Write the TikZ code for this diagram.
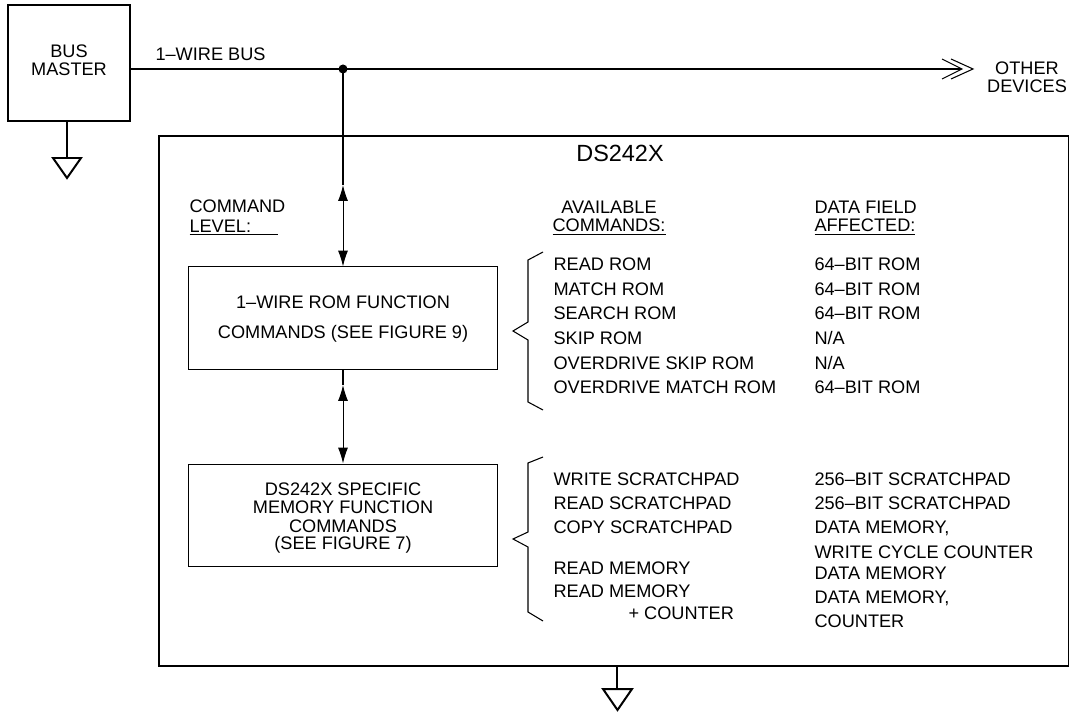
\documentclass[tikz,border=0pt]{standalone}
\usepackage{fontspec}
\setmainfont{Liberation Sans}
\usetikzlibrary{arrows.meta}

\tikzset{
	txt/.style={inner sep=0pt, font=\fontsize{15.5}{18}\selectfont},
	blk/.style={draw, line width=0.85pt, minimum width=9.24cm, minimum height=3.06cm, inner sep=0pt, font=\fontsize{15.5}{18}\selectfont},
	gnd/.style={line width=1.7pt, line join=miter},
	dbl/.style={line width=0.85pt, {Latex[length=13.5pt,width=8.5pt]}-{Latex[length=13.5pt,width=8.5pt]}}
}

\begin{document}
\begin{tikzpicture}[x=0.03cm, y=-0.03cm, line width=0.9pt]
	\useasboundingbox (0,0) rectangle (1071,713);

	% Bus master
	\node (master) at (69,63) [draw, minimum width=3.66cm, minimum height=3.48cm] {};
	\node (bus) at (69,58) [txt, anchor=base] {BUS};
	\node (mst) at (69,76) [txt, anchor=base] {MASTER};
	\coordinate (g1) at (67,158);
	\draw (master.south -| g1) -- (g1);
	\draw[gnd] (53,158) -- (81,158) -- (67,178) -- cycle;

	% 1-Wire bus
	\node (tap) at (343,69) [circle, fill, inner sep=0pt, minimum size=0.27cm] {};
	\coordinate (busend) at (961,69);
	\draw (master.east |- tap) -- (tap.center) -- (busend);
	\draw (942,59) -- (962,69) -- (942,79);
	\draw (951,59) -- (973,69) -- (951,79);
	\node (wire) at (155,61) [txt, anchor=base west] {1--WIRE BUS};
	\node (oth) at (1027,75) [txt, anchor=base] {OTHER};
	\node (dev) at (1027,93) [txt, anchor=base] {DEVICES};

	% DS242X
	\node (chip) at (613.5,401) [draw, minimum width=27.27cm, minimum height=15.9cm] {};
	\node (name) at (620,162) [inner sep=0pt, font=\fontsize{20}{24}\selectfont, anchor=base] {DS242X};
	\coordinate (g2) at (617,689);
	\draw (chip.south -| g2) -- (g2);
	\draw[gnd] (603,689) -- (632,689) -- (617.5,710) -- cycle;

	% Headings
	\node (cmd) at (189,213) [txt, anchor=base west] {COMMAND};
	\node (lvl) at (189,233) [txt, anchor=base west] {\underline{LEVEL:\hspace*{23pt}}};
	\node (avl) at (609,214) [txt, anchor=base] {AVAILABLE};
	\node (cmds) at (609,232) [txt, anchor=base] {\underline{COMMANDS:}};
	\node (dat) at (814,214) [txt, anchor=base west] {DATA FIELD};
	\node (aff) at (814,232) [txt, anchor=base west] {\underline{AFFECTED:}};

	% Blocks
	\node (rom) at (343,318) [blk] {};
	\node (rom-a) at (343,309) [txt, anchor=base] {1--WIRE ROM FUNCTION};
	\node (rom-b) at (343,339) [txt, anchor=base] {COMMANDS (SEE FIGURE 9)};
	\node (mem) at (343,515) [blk] {};
	\node (mem-a) at (343,495) [txt, anchor=base] {DS242X SPECIFIC};
	\node (mem-b) at (343,513) [txt, anchor=base] {MEMORY FUNCTION};
	\node (mem-c) at (343,532) [txt, anchor=base] {COMMANDS};
	\node (mem-d) at (343,549) [txt, anchor=base] {(SEE FIGURE 7)};

	% Arrows
	\coordinate (up1) at (343,185);
	\coordinate (up2) at (343,385);
	\draw (tap.center) -- (up1);
	\draw[dbl] (up1) -- (rom.north);
	\draw (rom.south) -- (up2);
	\draw[dbl] (up2) -- (mem.north);

	% ROM commands
	\draw (543,252) -- (528,260) -- (528,322) -- (513,331) -- (528,340) -- (528,402) -- (543,410);
	\node (r1) at (553,271) [txt, anchor=base west] {READ ROM};
	\node (r2) at (553,295.5) [txt, anchor=base west] {MATCH ROM};
	\node (r3) at (553,320) [txt, anchor=base west] {SEARCH ROM};
	\node (r4) at (553,344.5) [txt, anchor=base west] {SKIP ROM};
	\node (r5) at (553,369) [txt, anchor=base west] {OVERDRIVE SKIP ROM};
	\node (r6) at (553,393.5) [txt, anchor=base west] {OVERDRIVE MATCH ROM};
	\node (rf1) at (814,271) [txt, anchor=base west] {64--BIT ROM};
	\node (rf2) at (814,295.5) [txt, anchor=base west] {64--BIT ROM};
	\node (rf3) at (814,320) [txt, anchor=base west] {64--BIT ROM};
	\node (rf4) at (814,344.5) [txt, anchor=base west] {N/A};
	\node (rf5) at (814,369) [txt, anchor=base west] {N/A};
	\node (rf6) at (814,393.5) [txt, anchor=base west] {64--BIT ROM};

	% Memory commands
	\draw (543,457) -- (528,463) -- (528,532) -- (513,539) -- (528,547) -- (528,612) -- (543,621);
	\node (m1) at (553,485) [txt, anchor=base west] {WRITE SCRATCHPAD};
	\node (m2) at (553,509) [txt, anchor=base west] {READ SCRATCHPAD};
	\node (m3) at (553,533) [txt, anchor=base west] {COPY SCRATCHPAD};
	\node (m4) at (553,574) [txt, anchor=base west] {READ MEMORY};
	\node (m5) at (553,597) [txt, anchor=base west] {READ MEMORY};
	\node (m6) at (628,619) [txt, anchor=base west] {+ COUNTER};
	\node (mf1) at (814,485) [txt, anchor=base west] {256--BIT SCRATCHPAD};
	\node (mf2) at (814,509) [txt, anchor=base west] {256--BIT SCRATCHPAD};
	\node (mf3) at (814,533) [txt, anchor=base west] {DATA MEMORY,};
	\node (mf4) at (814,558) [txt, anchor=base west] {WRITE CYCLE COUNTER};
	\node (mf5) at (814,579) [txt, anchor=base west] {DATA MEMORY};
	\node (mf6) at (814,603) [txt, anchor=base west] {DATA MEMORY,};
	\node (mf7) at (814,627) [txt, anchor=base west] {COUNTER};

\end{tikzpicture}
\end{document}
